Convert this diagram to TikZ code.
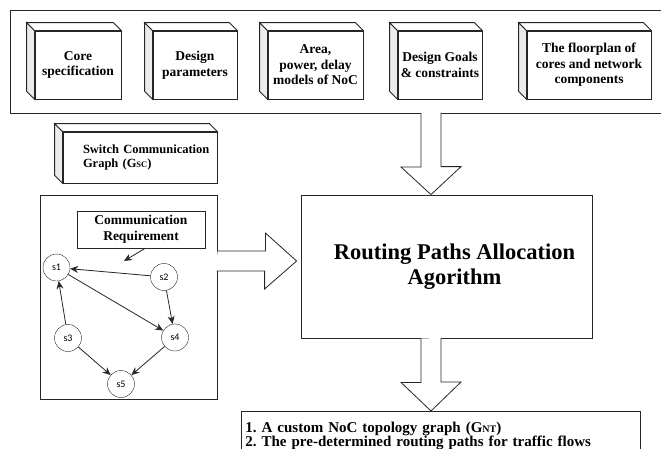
\documentclass[tikz,border=0pt]{standalone}
\usepackage{fontspec}
\setmainfont{Liberation Serif}
\newfontfamily\swfont{Carlito}
\usetikzlibrary{arrows.meta}
\frenchspacing

\tikzset{
  box/.style={draw=black!85, fill=white, line width=0.8pt, inner sep=0pt, align=center,
    font=\bfseries\fontsize{13.5}{15.5}\selectfont},
  sw/.style={draw=black!85, fill=white, circle, minimum size=27pt, inner sep=0pt,
    font=\swfont\fontsize{10}{12}\selectfont},
  link/.style={draw=black!85, line width=0.8pt, -{Stealth[length=8pt,width=7pt]}},
  fat/.style={draw=black!85, fill=white, line width=0.8pt, line join=miter},
}

\begin{document}
\begin{tikzpicture}[x=1pt,y=-1pt]
\useasboundingbox (0,0) rectangle (661,448);

% inputs of the flow
\node[box, minimum width=680, minimum height=103] (inputs) at (350,61.5) {};
\node[box, minimum width=86, minimum height=68] (core) at (78,65) {Core\\specification};
\node[box, minimum width=84, minimum height=68] (param) at (195,65) {Design\\parameters};
\node[box, minimum width=95, minimum height=68] (model) at (315.5,65) {Area,\\power, delay\\models of NoC};
\node[box, minimum width=84, minimum height=68] (goal) at (440,65) {Design Goals\\\& constraints};
\node[box, minimum width=124, minimum height=68] (plan) at (589,65) {The floorplan of\\cores and network\\components};

\node[box, minimum width=154, minimum height=51, text width=114, align=left,
  font=\bfseries\fontsize{12.5}{14.5}\selectfont] (sgc) at (140,157.5)
  {\mbox{Switch Communication}\\Graph (G{\fontsize{8.5}{9}\selectfont SC})};

% block sides
\foreach \b in {core,param,model,goal,plan,sgc} {
  \draw[fat, fill=gray!15] (\b.north west) -- ++(-8,-8) -- ([shift={(-8,-8)}]\b.south west) -- (\b.south west) -- cycle;
  \draw[fat] (\b.north west) -- ++(-8,-8) -- ([shift={(-8,-8)}]\b.north east) -- (\b.north east) -- cycle;
}

% switch graph
\node[box, minimum width=177, minimum height=204] (gbox) at (128.5,297) {};
\node[box, minimum width=128, minimum height=37, font=\bfseries\fontsize{13.5}{16}\selectfont] (req) at (141,229.5) {Communication\\Requirement};
\node[sw] (s1) at (56.5,267.5) {s1};
\node[sw] (s2) at (164,277) {s2};
\node[sw] (s3) at (68,338) {s3};
\node[sw] (s4) at (175,337.5) {s4};
\node[sw] (s5) at (121,384) {s5};
\coordinate (reqtip) at (124,261);

\draw[link] ([xshift=4]req.south) -- (reqtip);
\draw[link] (s2) -- (s1);
\draw[link] (s3) -- (s1);
\draw[link] (s1) -- (s4);
\draw[link] (s2) -- (s4);
\draw[link] (s3) -- (s5);
\draw[link] (s4) -- (s5);

% algorithm and result
\node[box, minimum width=291, minimum height=143, font=\bfseries\fontsize{22.5}{25}\selectfont] (algo) at (446.5,266.5)
  {\hspace*{16pt}Routing Paths Allocation\\\hspace*{16pt}Agorithm};
\node[box, anchor=north west, align=left, text width=391, inner xsep=4pt, inner ysep=0pt, minimum height=50,
  font=\bfseries\fontsize{15}{14}\selectfont] (out) at (241,411)
  {1. A custom NoC topology graph (G{\fontsize{10}{10}\selectfont NT})\\
   2. The pre-determined routing paths for traffic flows};

% block arrows
\coordinate (d1) at (431,113);
\coordinate (d2) at (d1 |- algo.south);
\coordinate (r1) at (gbox.east |- 0,261);
\draw[fat] (d1) ++(-10,0) -- ++(0,54) -- ++(-20,0) -- (d1 |- algo.north) -- ++(30,-28) -- ++(-20,0) -- ++(0,-54);
\draw[fat] (d2) ++(-10,0) -- ++(0,44) -- ++(-20,0) -- (d2 |- out.north) -- ++(30,-29) -- ++(-20,0) -- ++(0,-44);
\draw[fat] (r1) ++(0,-10) -- ++(48,0) -- ++(0,-18) -- ([xshift=-4]algo.west |- r1) -- ++(-32,28) -- ++(0,-18) -- ++(-48,0);
\end{tikzpicture}
\end{document}
